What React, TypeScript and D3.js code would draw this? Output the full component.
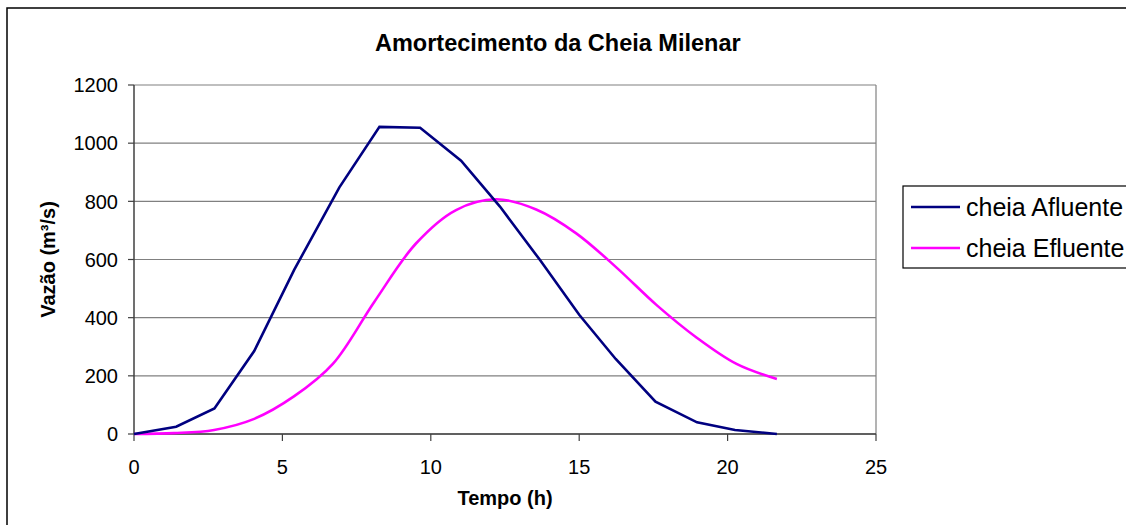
import React from "react";
import * as d3 from "d3";

const afluenteTime = [0, 1.42, 2.71, 4.05, 5.4, 6.92, 8.27, 9.64, 11.02, 12.33, 13.68, 15.0, 16.23, 17.57, 18.97, 20.25, 21.66];
const afluenteQ = [0, 25, 88, 285, 565, 848, 1056, 1053, 940, 782, 598, 410, 258, 111, 40, 14, 0];
const efluenteTime = [0, 1.35, 2.7, 4.05, 5.4, 6.7, 8.1, 9.5, 10.85, 12.2, 13.55, 14.9, 16.25, 17.6, 18.95, 20.3, 21.66];
const efluenteQ = [0, 3, 14, 52, 130, 241, 455, 655, 770, 807, 772, 690, 573, 444, 332, 241, 189];
const xTicks = [0, 5, 10, 15, 20, 25];
const yTicks = [0, 200, 400, 600, 800, 1000, 1200];
const seriesNames = ["cheia Afluente", "cheia Efluente"];
const seriesColors = ["#000080", "#FF00FF"];
const title = "Amortecimento da Cheia Milenar";
const xTitle = "Tempo (h)";
const yTitle = "Vazão (m³/s)";

const W = 1126;
const H = 525;
const L = 134, R = 876, T = 85, B = 434;
const FONT = "'Liberation Sans', Arial, sans-serif";

export default function App() {
  const x = d3.scaleLinear().domain([0, 25]).range([L, R]);
  const y = d3.scaleLinear().domain([0, 1200]).range([B, T]);
  const aData = afluenteTime.map((t, i) => [t, afluenteQ[i]] as [number, number]);
  const eData = efluenteTime.map((t, i) => [t, efluenteQ[i]] as [number, number]);
  const lineLin = d3.line<[number, number]>().x(d => x(d[0])).y(d => y(d[1]));
  const lineSmooth = d3.line<[number, number]>().x(d => x(d[0])).y(d => y(d[1])).curve(d3.curveCatmullRom.alpha(0.5));

  return (
    <svg width={W} height={H} style={{ position: "absolute", left: 0, top: 0, background: "#fff" }} fontFamily={FONT}>
      <rect x={0} y={0} width={W} height={H} fill="#fff" />
      <rect x={7} y={8} width={W + 20} height={H + 20} fill="none" stroke="#000" strokeWidth={1.5} />
      <text x={375} y={51} textAnchor="start" fontSize={23.5} fontWeight="bold">{title}</text>
      {/* gridlines */}
      {yTicks.map(v => (
        <line key={"g" + v} x1={L} x2={R} y1={y(v)} y2={y(v)} stroke="#808080" strokeWidth={1.2} />
      ))}
      <line x1={R} x2={R} y1={T} y2={B} stroke="#808080" strokeWidth={1.2} />
      {/* axes */}
      <line x1={L} x2={L} y1={T} y2={B} stroke="#404040" strokeWidth={1.5} />
      <line x1={L} x2={R} y1={B} y2={B} stroke="#404040" strokeWidth={1.5} />
      {yTicks.map(v => (
        <g key={"yt" + v}>
          <line x1={L - 6} x2={L} y1={y(v)} y2={y(v)} stroke="#404040" strokeWidth={1.2} />
          <text x={L - 16} y={y(v)} dy="0.36em" textAnchor="end" fontSize={20}>{v}</text>
        </g>
      ))}
      {xTicks.map(v => (
        <g key={"xt" + v}>
          <line x1={x(v)} x2={x(v)} y1={B} y2={B + 7} stroke="#404040" strokeWidth={1.2} />
          <text x={x(v)} y={474} textAnchor="middle" fontSize={20}>{v}</text>
        </g>
      ))}
      <text x={(L + R) / 2} y={505} textAnchor="middle" fontSize={20} fontWeight="bold">{xTitle}</text>
      <text transform={`translate(55, ${(T + B) / 2}) rotate(-90)`} textAnchor="middle" fontSize={20} fontWeight="bold">{yTitle}</text>
      {/* series */}
      <path d={lineSmooth(eData) ?? ""} fill="none" stroke={seriesColors[1]} strokeWidth={2.6} />
      <path d={lineLin(aData) ?? ""} fill="none" stroke={seriesColors[0]} strokeWidth={2.6} />
      {/* legend */}
      <rect x={903} y={186} width={260} height={82} fill="#fff" stroke="#000" strokeWidth={1.2} />
      {seriesNames.map((n, i) => (
        <g key={n}>
          <line x1={911} x2={960} y1={207 + i * 41} y2={207 + i * 41} stroke={seriesColors[i]} strokeWidth={2.6} />
          <text x={966} y={207 + i * 41} dy="0.36em" fontSize={25}>{n}</text>
        </g>
      ))}
    </svg>
  );
}
